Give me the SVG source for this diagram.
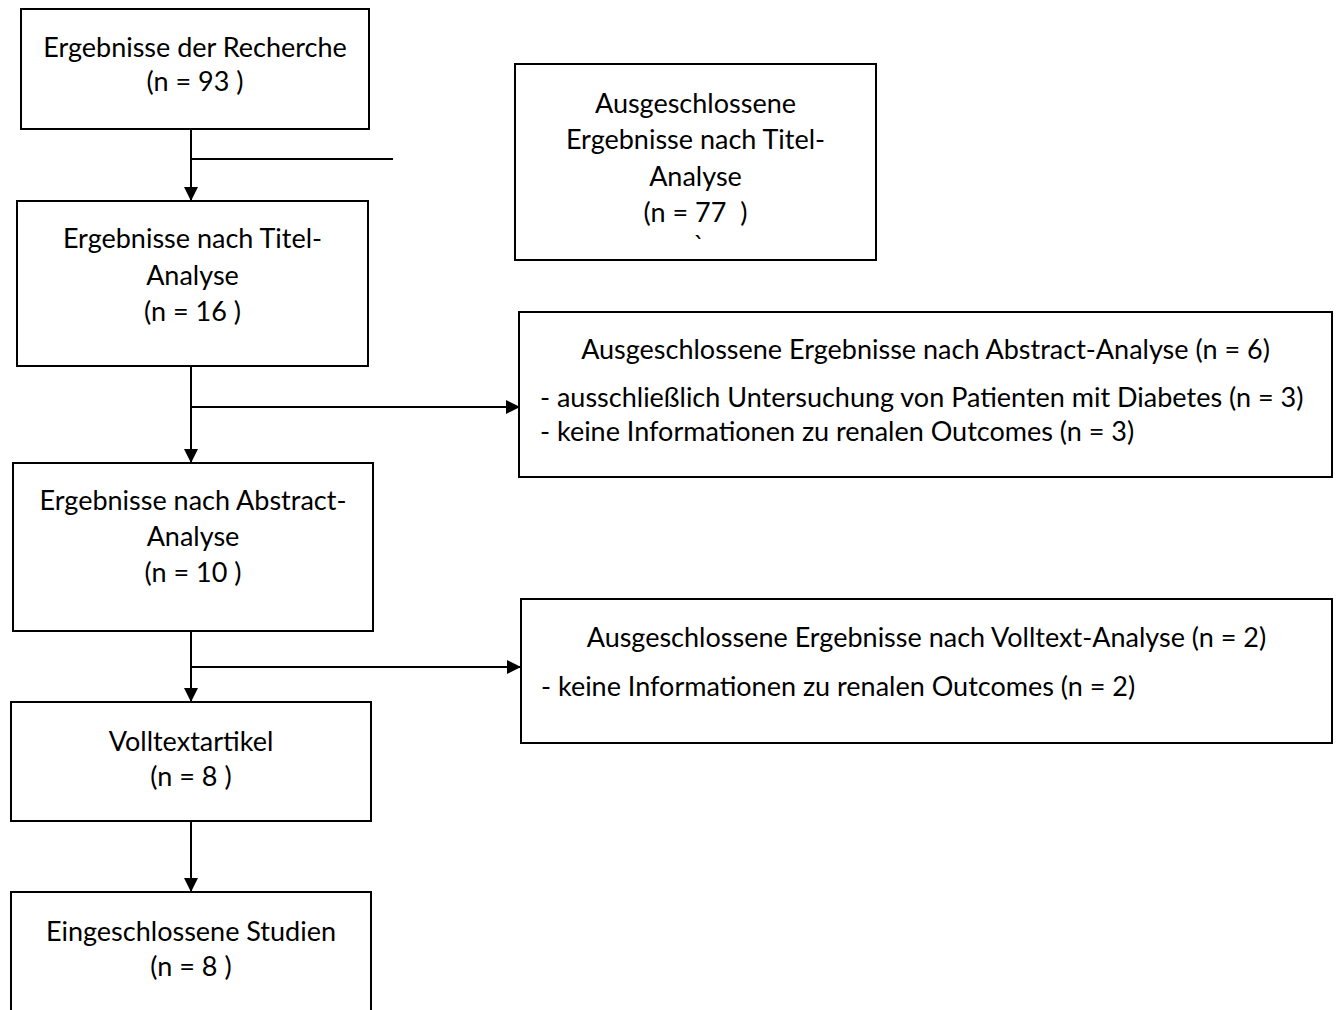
<svg xmlns="http://www.w3.org/2000/svg" width="1336" height="1010" viewBox="0 0 1336 1010">
<defs>
<style>
.box{fill:#fff;stroke:#000;stroke-width:2}
.t{font-family:Lato,"Open Sans","Liberation Sans",sans-serif;font-size:27px;fill:#000}
.c{text-anchor:middle}
.con{fill:none;stroke:#000;stroke-width:2}
</style>
<marker id="ah" markerUnits="userSpaceOnUse" markerWidth="14" markerHeight="14" refX="14" refY="7" orient="auto">
<path d="M0,0 L14,7 L0,14 Z" fill="#000"/>
</marker>
</defs>
<rect width="1336" height="1010" fill="#fff"/>
<g id="connectors">
<path class="con" d="M191,129 V201" marker-end="url(#ah)"/>
<path class="con" d="M191,159 H393"/>
<path class="con" d="M191,366 V463" marker-end="url(#ah)"/>
<path class="con" d="M191,407 H520" marker-end="url(#ah)"/>
<path class="con" d="M191,631 V702" marker-end="url(#ah)"/>
<path class="con" d="M191,667 H521" marker-end="url(#ah)"/>
<path class="con" d="M191,821 V892" marker-end="url(#ah)"/>
</g>
<g id="n1">
<rect class="box" x="21" y="9" width="348" height="120"/>
<text class="t c" x="195" y="57">Ergebnisse der Recherche</text>
<text class="t c" x="195" y="91">(n = 93 )</text>
</g>
<g id="n2">
<rect class="box" x="17" y="201" width="351" height="165"/>
<text class="t c" x="192.5" y="248">Ergebnisse nach Titel-</text>
<text class="t c" x="192.5" y="285">Analyse</text>
<text class="t c" x="192.5" y="321">(n = 16 )</text>
</g>
<g id="n3">
<rect class="box" x="13" y="463" width="360" height="168"/>
<text class="t c" x="193" y="510">Ergebnisse nach Abstract-</text>
<text class="t c" x="193" y="546">Analyse</text>
<text class="t c" x="193" y="582">(n = 10 )</text>
</g>
<g id="n4">
<rect class="box" x="11" y="702" width="360" height="119"/>
<text class="t c" x="191" y="751">Volltextartikel</text>
<text class="t c" x="191" y="786">(n = 8 )</text>
</g>
<g id="n5">
<rect class="box" x="11" y="892" width="360" height="130"/>
<text class="t c" x="191" y="941">Eingeschlossene Studien</text>
<text class="t c" x="191" y="976">(n = 8 )</text>
</g>
<g id="e1">
<rect class="box" x="515" y="64" width="361" height="196"/>
<text class="t c" x="695.5" y="113">Ausgeschlossene</text>
<text class="t c" x="695.5" y="149">Ergebnisse nach Titel-</text>
<text class="t c" x="695.5" y="186">Analyse</text>
<text class="t c" x="695.5" y="222" xml:space="preserve">(n = 77  )</text>
<text class="t c" x="699" y="255">`</text>
</g>
<g id="e2">
<rect class="box" x="519" y="312" width="813" height="165"/>
<text class="t c" x="925.5" y="359">Ausgeschlossene Ergebnisse nach Abstract-Analyse (n = 6)</text>
<text class="t" x="540" y="407">- ausschließlich Untersuchung von Patienten mit Diabetes (n = 3)</text>
<text class="t" x="540" y="441">- keine Informationen zu renalen Outcomes (n = 3)</text>
</g>
<g id="e3">
<rect class="box" x="521" y="599" width="811" height="144"/>
<text class="t c" x="926.5" y="647">Ausgeschlossene Ergebnisse nach Volltext-Analyse (n = 2)</text>
<text class="t" x="541" y="696">- keine Informationen zu renalen Outcomes (n = 2)</text>
</g>
</svg>
